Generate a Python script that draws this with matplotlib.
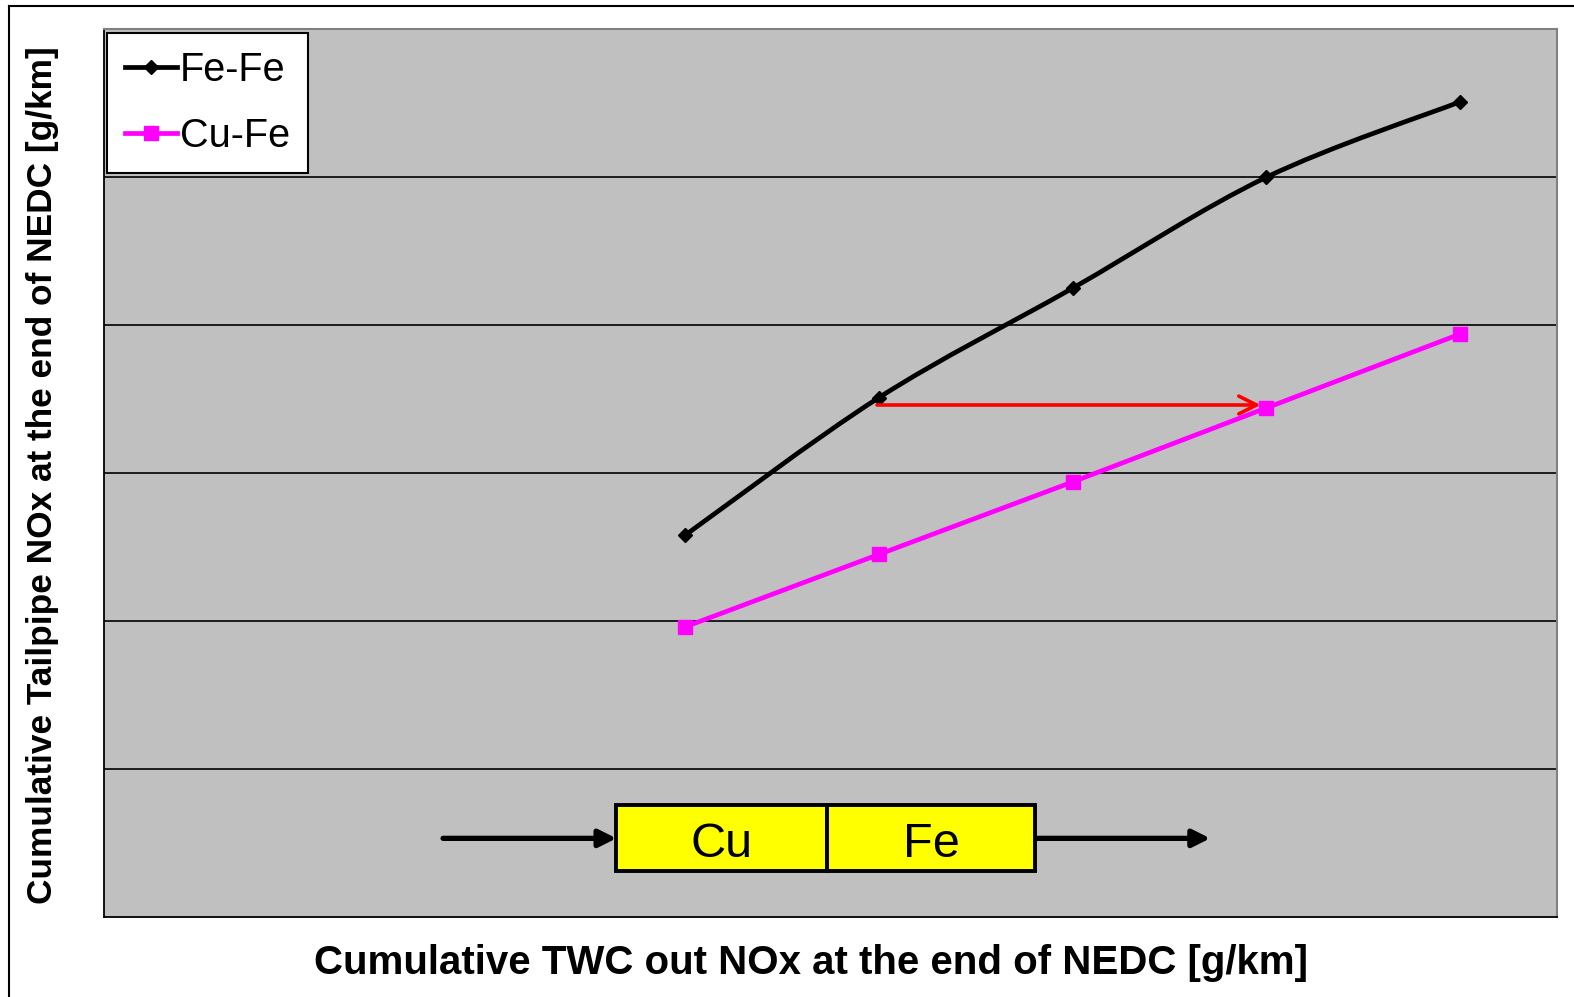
import numpy as np
import matplotlib.pyplot as plt
from matplotlib.path import Path
from matplotlib.patches import PathPatch, Rectangle
from matplotlib.lines import Line2D

plt.rcParams['font.family'] = ['Liberation Sans', 'DejaVu Sans']

# cumulative TWC out NOx (x) and tailpipe NOx (y), arbitrary units
twc_out = [3, 4, 5, 6, 7]
fe_fe = [2.58, 3.51, 4.25, 5.00, 5.51]
cu_fe = [1.96, 2.45, 2.94, 3.44, 3.94]

series_names = ['Fe-Fe', 'Cu-Fe']
brick_labels = ['Cu', 'Fe']


def smooth_path(x, y):
    # Catmull-Rom style bezier through the points (spreadsheet "smoothed line")
    x = np.asarray(x, float)
    y = np.asarray(y, float)
    verts = [(x[0], y[0])]
    codes = [Path.MOVETO]
    n = len(x)
    for i in range(n - 1):
        x0, y0 = (x[i - 1], y[i - 1]) if i > 0 else (x[i], y[i])
        x3, y3 = (x[i + 2], y[i + 2]) if i + 2 < n else (x[i + 1], y[i + 1])
        c1 = (x[i] + (x[i + 1] - x0) / 6, y[i] + (y[i + 1] - y0) / 6)
        c2 = (x[i + 1] - (x3 - x[i]) / 6, y[i + 1] - (y3 - y[i]) / 6)
        verts += [c1, c2, (x[i + 1], y[i + 1])]
        codes += [Path.CURVE4] * 3
    return Path(verts, codes)


fig = plt.figure(figsize=(15.74, 9.97), dpi=100)
ax = fig.add_axes([0.0661, 0.0805, 0.9231, 0.8901])
ax.set_facecolor('#C0C0C0')
ax.set_xlim(0, 7.5)
ax.set_ylim(0, 6)

# horizontal gridlines, no tick labels
ax.set_yticks([1, 2, 3, 4, 5])
ax.set_xticks([])
ax.tick_params(left=False, labelleft=False)
ax.grid(True, axis='y', color='black', lw=1.2)
ax.set_axisbelow(True)
for side in ['left', 'bottom']:
    ax.spines[side].set_color('black')
    ax.spines[side].set_linewidth(1.3)
for side in ['top', 'right']:
    ax.spines[side].set_color('#808080')
    ax.spines[side].set_linewidth(1.5)

# Fe-Fe smoothed curve
ax.add_patch(PathPatch(smooth_path(twc_out, fe_fe), fill=False,
                       edgecolor='black', lw=3.4, zorder=3))
ax.plot(twc_out, fe_fe, ls='none', marker='D', ms=7, color='black', zorder=4)

# Cu-Fe
ax.plot(twc_out, cu_fe, color='#FF00FF', lw=3.4, marker='s', ms=10, zorder=4)

# shift between the two systems
ax.annotate('', xy=(5.97, 3.46), xytext=(3.99, 3.46),
            arrowprops=dict(arrowstyle='->', color='#FF0000', lw=2.6,
                            mutation_scale=32, shrinkA=0, shrinkB=0),
            zorder=5)

# brick layout: Cu upstream, Fe downstream
ax.annotate('', xy=(2.645, 0.53), xytext=(1.75, 0.53),
            arrowprops=dict(arrowstyle='-|>', color='black', lw=3.8,
                            mutation_scale=26, shrinkA=0, shrinkB=0))
ax.annotate('', xy=(5.71, 0.53), xytext=(4.806, 0.53),
            arrowprops=dict(arrowstyle='-|>', color='black', lw=3.8,
                            mutation_scale=26, shrinkA=0, shrinkB=0))
edges = [2.645, 3.733, 4.806]
for i, lab in enumerate(brick_labels):
    ax.add_patch(Rectangle((edges[i], 0.306), edges[i + 1] - edges[i], 0.45,
                           facecolor='#FFFF00', edgecolor='black', lw=2.8,
                           zorder=3))
    ax.text((edges[i] + edges[i + 1]) / 2, 0.49, lab, fontsize=35,
            ha='center', va='center', zorder=4)

handles = [
    Line2D([], [], color='black', lw=3.4, marker='D', ms=7),
    Line2D([], [], color='#FF00FF', lw=3.4, marker='s', ms=10),
]
leg = ax.legend(handles, series_names, loc='upper left',
                bbox_to_anchor=(0.0023, 0.9958), borderaxespad=0,
                fontsize=28.5, frameon=True, fancybox=False, framealpha=1,
                edgecolor='black', handlelength=1.3, handletextpad=0.08,
                labelspacing=0.72, borderpad=0.45)
leg.get_frame().set_linewidth(1.5)

fig.text(0.515, 0.034, 'Cumulative TWC out NOx at the end of NEDC [g/km]',
         fontsize=29, fontweight='bold', ha='center', va='center')
fig.text(0.027, 0.523, 'Cumulative Tailpipe NOx at the end of NEDC [g/km]',
         fontsize=25.4, fontweight='bold', ha='center', va='center',
         rotation=90)

# outer chart frame
fig.add_artist(Line2D([0.006, 1.0], [0.9943, 0.9943], color='black', lw=1.5,
                      transform=fig.transFigure))
fig.add_artist(Line2D([0.006, 0.006], [0.0, 0.9943], color='black', lw=1.5,
                      transform=fig.transFigure))

fig.savefig('out.png', dpi=100)
